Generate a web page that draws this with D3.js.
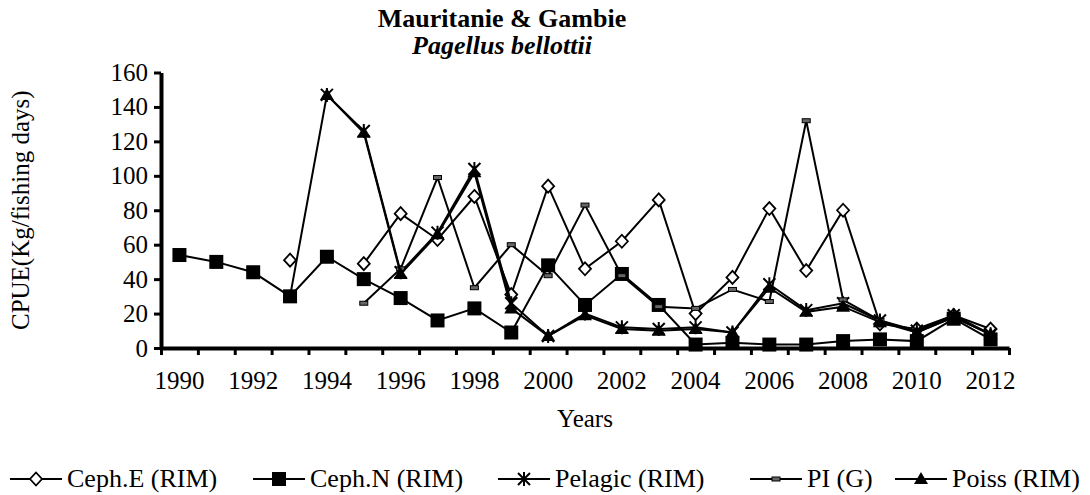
<!DOCTYPE html>
<html>
<head>
<meta charset="utf-8">
<script src="https://cdn.jsdelivr.net/npm/d3@7"></script>
<style>
  body { margin: 0; background: #fff; }
  text { font-family: "Liberation Serif", "Times New Roman", serif; fill: #000; }
</style>
</head>
<body>
<div id="chart"></div>
<script>
// 年份與各系列數據 (null = 無資料)
const years = d3.range(1990, 2013);
const yTicks = [0, 20, 40, 60, 80, 100, 120, 140, 160];

const cephE   = [null, null, null, 51, null, 49, 78, 63, 88, 31, 94, 46, 62, 86, 20, 41, 81, 45, 80, 14, 11, 19, 11];
const cephN   = [54, 50, 44, 30, 53, 40, 29, 16, 23, 9, 48, 25, 43, 25, 2, 3, 2, 2, 4, 5, 4, 17, 5];
const pelagic = [null, null, null, null, 147, 126, 44, 67, 104, 26, 7, 20, 12, 11, 12, 9, 37, 22, 26, 16, 10, 19, 8];
const piG     = [null, null, null, null, null, 26, 46, 99, 35, 60, 42, 83, 42, 24, 23, 34, 27, 132, 28, 16, 9, 18, 8];
const poiss   = [null, null, null, 30, 147, 125, 43, 66, 102, 23, 7, 19, 11, 10, 11, 9, 35, 21, 24, 15, 9, 18, 8];

const seriesNames = ["Ceph.E (RIM)", "Ceph.N (RIM)", "Pelagic (RIM)", "PI (G)", "Poiss (RIM)"];
const seriesValues = [cephE, cephN, pelagic, piG, poiss];
const seriesMarkers = ["diamond", "square", "star", "dash", "triangle"];

const width = 1090;
const height = 495;
const margin = {top: 72.5, right: 81, bottom: 147, left: 161};

const svg = d3.select("#chart").append("svg")
    .attr("width", width)
    .attr("height", height);

svg.append("rect").attr("width", width).attr("height", height).attr("fill", "#fff");

// 比例尺
const x = d3.scaleBand()
    .domain(years)
    .range([margin.left, width - margin.right])
    .padding(0);

const xEdge = d3.scaleLinear()
    .domain([0, years.length])
    .range([margin.left, width - margin.right]);

const y = d3.scaleLinear()
    .domain([0, 160])
    .range([height - margin.bottom, margin.top]);

const cx = d => x(d) + x.bandwidth() / 2;

// 標記
function drawMarker(g, type) {
    if (type === "diamond") {
        g.append("path").attr("d", "M0,-6.5L6,0L0,6.5L-6,0Z")
            .attr("fill", "#fff").attr("stroke", "#000").attr("stroke-width", 1.8);
    } else if (type === "square") {
        g.append("rect").attr("x", -7).attr("y", -7).attr("width", 14).attr("height", 14)
            .attr("fill", "#000");
    } else if (type === "triangle") {
        g.append("path").attr("d", "M0,-7L7,5L-7,5Z").attr("fill", "#000");
    } else if (type === "star") {
        g.append("path").attr("d", "M-6,-6L6,6M6,-6L-6,6M0,-7L0,7")
            .attr("stroke", "#000").attr("stroke-width", 2).attr("fill", "none");
    } else if (type === "dash") {
        g.append("rect").attr("x", -4).attr("y", -2).attr("width", 8).attr("height", 4)
            .attr("fill", "#666").attr("stroke", "#000").attr("stroke-width", 1);
    }
}

// 座標軸
const yAxis = d3.axisLeft(y)
    .tickValues(yTicks)
    .tickSize(7)
    .tickSizeOuter(0)
    .tickPadding(6);

const gy = svg.append("g")
    .attr("transform", `translate(${margin.left},0)`)
    .call(yAxis);
gy.selectAll("text").style("font-size", "25px");

const xTickAxis = d3.axisBottom(xEdge)
    .tickValues(d3.range(0, years.length + 1))
    .tickSize(7)
    .tickSizeOuter(0)
    .tickFormat("");

const gxt = svg.append("g")
    .attr("transform", `translate(0,${height - margin.bottom})`)
    .call(xTickAxis);

const xLabelAxis = d3.axisBottom(x)
    .tickValues(years.filter(d => d % 2 === 0))
    .tickSize(0)
    .tickPadding(23);

const gxl = svg.append("g")
    .attr("transform", `translate(0,${height - margin.bottom})`)
    .call(xLabelAxis);
gxl.select(".domain").remove();
gxl.selectAll("text").style("font-size", "25px");

[gy, gxt].forEach(g => {
    g.select(".domain").attr("stroke-width", 4);
    g.selectAll(".tick line").attr("stroke-width", 3);
});

// 系列折線與標記
const line = d3.line()
    .defined(d => d.v !== null)
    .x(d => cx(d.year))
    .y(d => y(d.v));

seriesValues.forEach((vals, i) => {
    const pts = years.map((year, j) => ({year: year, v: vals[j]}));
    svg.append("path")
        .datum(pts)
        .attr("d", line)
        .attr("fill", "none")
        .attr("stroke", "#000")
        .attr("stroke-width", 2);
    pts.filter(d => d.v !== null).forEach(d => {
        const g = svg.append("g").attr("transform", `translate(${cx(d.year)},${y(d.v)})`);
        drawMarker(g, seriesMarkers[i]);
    });
});

// 標題
svg.append("text")
    .attr("x", 502).attr("y", 27)
    .attr("text-anchor", "middle")
    .style("font-size", "26px").style("font-weight", "bold")
    .text("Mauritanie & Gambie");

svg.append("text")
    .attr("x", 502).attr("y", 54)
    .attr("text-anchor", "middle")
    .style("font-size", "26px").style("font-weight", "bold").style("font-style", "italic")
    .text("Pagellus bellottii");

// 軸標籤
svg.append("text")
    .attr("transform", `translate(29,${(y(0) + y(160)) / 2}) rotate(-90)`)
    .attr("text-anchor", "middle")
    .style("font-size", "25px")
    .text("CPUE(Kg/fishing days)");

svg.append("text")
    .attr("x", (xEdge(0) + xEdge(years.length)) / 2)
    .attr("y", 427)
    .attr("text-anchor", "middle")
    .style("font-size", "25px")
    .text("Years");

// 圖例
const legendX = [10, 253, 498, 750, 895];
const legendY = 479;
seriesNames.forEach((name, i) => {
    const lg = svg.append("g").attr("transform", `translate(${legendX[i]},${legendY})`);
    lg.append("line")
        .attr("x1", 0).attr("x2", 52)
        .attr("stroke", "#000").attr("stroke-width", 2);
    drawMarker(lg.append("g").attr("transform", "translate(26,0)"), seriesMarkers[i]);
    lg.append("text")
        .attr("x", 57).attr("y", 8)
        .style("font-size", "26px")
        .text(name);
});
</script>
</body>
</html>
